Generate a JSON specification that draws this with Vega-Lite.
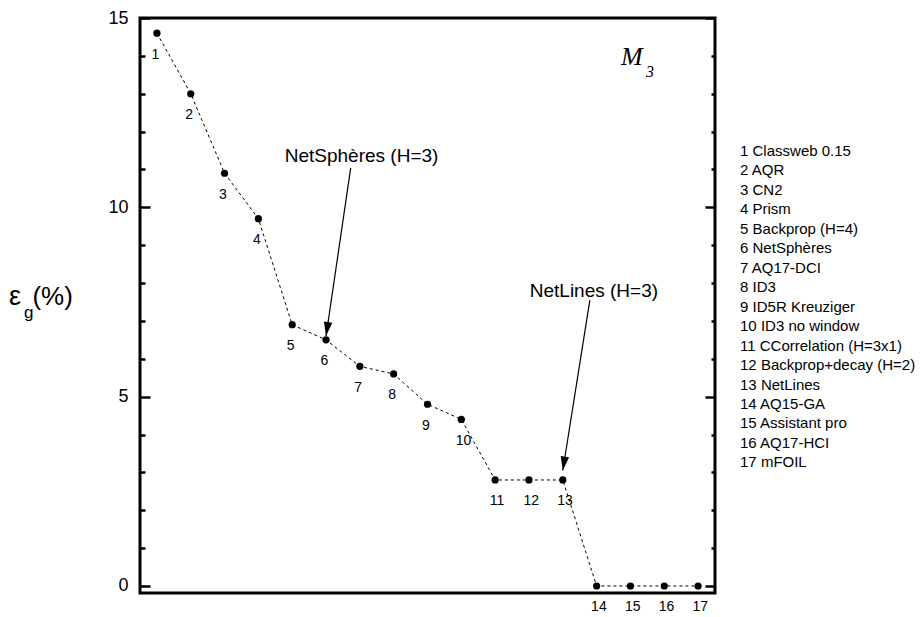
{
  "$schema": "https://vega.github.io/schema/vega-lite/v6.json",
  "autosize": "none",
  "width": 575,
  "height": 575,
  "padding": {"left": 140, "top": 18, "right": 208, "bottom": 24},
  "background": "white",
  "config": {
    "view": {"stroke": "black", "strokeWidth": 3},
    "font": "Liberation Sans",
    "text": {"font": "Liberation Sans", "color": "black"}
  },
  "datasets": {
    "methods": [
      {"id": 1, "label": "1 Classweb 0.15", "err": 14.6},
      {"id": 2, "label": "2 AQR", "err": 13.0},
      {"id": 3, "label": "3 CN2", "err": 10.9},
      {"id": 4, "label": "4 Prism", "err": 9.7},
      {"id": 5, "label": "5 Backprop (H=4)", "err": 6.9},
      {"id": 6, "label": "6 NetSphères", "err": 6.5},
      {"id": 7, "label": "7 AQ17-DCI", "err": 5.8},
      {"id": 8, "label": "8 ID3", "err": 5.6},
      {"id": 9, "label": "9 ID5R Kreuziger", "err": 4.8},
      {"id": 10, "label": "10 ID3 no window", "err": 4.4},
      {"id": 11, "label": "11 CCorrelation (H=3x1)", "err": 2.8},
      {"id": 12, "label": "12 Backprop+decay (H=2)", "err": 2.8},
      {"id": 13, "label": "13 NetLines", "err": 2.8},
      {"id": 14, "label": "14 AQ15-GA", "err": 0},
      {"id": 15, "label": "15 Assistant pro", "err": 0},
      {"id": 16, "label": "16 AQ17-HCI", "err": 0},
      {"id": 17, "label": "17 mFOIL", "err": 0}
    ],
    "arrows": [
      {"label": "NetSphères (H=3)", "tx": 7.05, "ty": 11.2, "x1": 6.73, "y1": 11.04, "x2": 6.0, "y2": 6.6},
      {"label": "NetLines (H=3)", "tx": 13.92, "ty": 7.64, "x1": 13.8, "y1": 7.55, "x2": 13.0, "y2": 3.05}
    ]
  },
  "layer": [
    {
      "layer": [
        {
          "data": {"name": "methods"},
          "mark": {"type": "line", "strokeDash": [3, 3], "strokeWidth": 1, "color": "black"},
          "encoding": {
            "x": {"field": "id", "type": "quantitative", "scale": {"domain": [0.5, 17.5], "nice": false, "zero": false}, "axis": null},
            "y": {
              "field": "err", "type": "quantitative",
              "scale": {"domain": [-0.185, 15], "nice": false, "zero": false},
              "axis": {
                "orient": "left",
                "values": [0, 1, 2, 3, 4, 5, 6, 7, 8, 9, 10, 11, 12, 13, 14, 15],
                "title": null, "domain": false, "grid": false,
                "tickColor": "black", "tickWidth": 2.5,
                "tickSize": {"condition": {"test": "datum.value % 5 === 0", "value": -10}, "value": -5},
                "labelExpr": "datum.value % 5 === 0 ? datum.label : ''",
                "labelPadding": 22, "labelFont": "Liberation Sans", "labelFontSize": 18, "labelColor": "black"
              }
            }
          }
        },
        {
          "data": {"name": "methods"},
          "mark": {"type": "circle", "size": 52, "color": "black", "opacity": 1},
          "encoding": {
            "x": {"field": "id", "type": "quantitative", "scale": {"domain": [0.5, 17.5], "nice": false, "zero": false}, "axis": null},
            "y": {
              "field": "err", "type": "quantitative",
              "scale": {"domain": [-0.185, 15], "nice": false, "zero": false},
              "axis": {
                "orient": "right",
                "values": [0, 1, 2, 3, 4, 5, 6, 7, 8, 9, 10, 11, 12, 13, 14, 15],
                "title": null, "domain": false, "grid": false, "labels": false,
                "tickColor": "black", "tickWidth": 2.5,
                "tickSize": {"condition": {"test": "datum.value % 5 === 0", "value": -10}, "value": -4}
              }
            }
          }
        },
        {
          "data": {"name": "methods"},
          "mark": {"type": "text", "align": "left", "baseline": "middle", "dx": -5.5, "dy": 21.5, "fontSize": 14, "clip": false},
          "encoding": {
            "x": {"field": "id", "type": "quantitative", "scale": {"domain": [0.5, 17.5], "nice": false, "zero": false}, "axis": null},
            "y": {"field": "err", "type": "quantitative", "scale": {"domain": [-0.185, 15], "nice": false, "zero": false}, "axis": null},
            "text": {"field": "id", "type": "nominal"}
          }
        },
        {
          "data": {"name": "arrows"},
          "mark": {"type": "rule", "strokeWidth": 1.2, "color": "black"},
          "encoding": {
            "x": {"field": "x1", "type": "quantitative", "scale": {"domain": [0.5, 17.5], "nice": false, "zero": false}, "axis": null},
            "y": {"field": "y1", "type": "quantitative", "scale": {"domain": [-0.185, 15], "nice": false, "zero": false}, "axis": null},
            "x2": {"field": "x2"},
            "y2": {"field": "y2"}
          }
        },
        {
          "data": {"name": "arrows"},
          "mark": {"type": "point", "shape": "M0,0L-0.3,-1L0.3,-1Z", "filled": true, "color": "black", "opacity": 1, "size": 800, "angle": 8.6},
          "encoding": {
            "x": {"field": "x2", "type": "quantitative", "scale": {"domain": [0.5, 17.5], "nice": false, "zero": false}, "axis": null},
            "y": {"field": "y2", "type": "quantitative", "scale": {"domain": [-0.185, 15], "nice": false, "zero": false}, "axis": null}
          }
        },
        {
          "data": {"name": "arrows"},
          "mark": {"type": "text", "align": "center", "baseline": "alphabetic", "fontSize": 19},
          "encoding": {
            "x": {"field": "tx", "type": "quantitative", "scale": {"domain": [0.5, 17.5], "nice": false, "zero": false}, "axis": null},
            "y": {"field": "ty", "type": "quantitative", "scale": {"domain": [-0.185, 15], "nice": false, "zero": false}, "axis": null},
            "text": {"field": "label", "type": "nominal"}
          }
        },
        {
          "data": {"values": [{}]},
          "mark": {"type": "text", "align": "left", "baseline": "alphabetic", "fontSize": 27, "clip": false, "text": "ε"},
          "encoding": {
            "x": {"datum": -3.37, "type": "quantitative", "scale": {"domain": [0.5, 17.5], "nice": false, "zero": false}, "axis": null},
            "y": {"datum": 7.42, "type": "quantitative", "scale": {"domain": [-0.185, 15], "nice": false, "zero": false}, "axis": null}
          }
        },
        {
          "data": {"values": [{}]},
          "mark": {"type": "text", "align": "left", "baseline": "alphabetic", "fontSize": 17, "clip": false, "text": "g"},
          "encoding": {
            "x": {"datum": -2.93, "type": "quantitative", "scale": {"domain": [0.5, 17.5], "nice": false, "zero": false}, "axis": null},
            "y": {"datum": 7.077, "type": "quantitative", "scale": {"domain": [-0.185, 15], "nice": false, "zero": false}, "axis": null}
          }
        },
        {
          "data": {"values": [{}]},
          "mark": {"type": "text", "align": "left", "baseline": "alphabetic", "fontSize": 26, "clip": false, "text": "(%)"},
          "encoding": {
            "x": {"datum": -2.68, "type": "quantitative", "scale": {"domain": [0.5, 17.5], "nice": false, "zero": false}, "axis": null},
            "y": {"datum": 7.42, "type": "quantitative", "scale": {"domain": [-0.185, 15], "nice": false, "zero": false}, "axis": null}
          }
        },
        {
          "data": {"values": [{}]},
          "mark": {"type": "text", "align": "left", "baseline": "alphabetic", "font": "Liberation Serif", "fontStyle": "italic", "fontSize": 26, "text": "M"},
          "encoding": {
            "x": {"datum": 14.72, "type": "quantitative", "scale": {"domain": [0.5, 17.5], "nice": false, "zero": false}, "axis": null},
            "y": {"datum": 13.76, "type": "quantitative", "scale": {"domain": [-0.185, 15], "nice": false, "zero": false}, "axis": null}
          }
        },
        {
          "data": {"values": [{}]},
          "mark": {"type": "text", "align": "left", "baseline": "alphabetic", "font": "Liberation Serif", "fontStyle": "italic", "fontSize": 16, "text": "3"},
          "encoding": {
            "x": {"datum": 15.46, "type": "quantitative", "scale": {"domain": [0.5, 17.5], "nice": false, "zero": false}, "axis": null},
            "y": {"datum": 13.43, "type": "quantitative", "scale": {"domain": [-0.185, 15], "nice": false, "zero": false}, "axis": null}
          }
        }
      ],
      "resolve": {"axis": {"y": "independent"}}
    },
    {
      "data": {"name": "methods"},
      "mark": {"type": "text", "align": "left", "baseline": "alphabetic", "fontSize": 15, "clip": false},
      "encoding": {
        "x": {"datum": 18.24, "type": "quantitative", "scale": {"domain": [0.5, 17.5], "nice": false, "zero": false}, "axis": null},
        "y": {"field": "id", "type": "quantitative", "scale": {"domain": [-6.091, 23.456], "reverse": true, "nice": false, "zero": false}, "axis": null},
        "text": {"field": "label", "type": "nominal"}
      }
    }
  ],
  "resolve": {"scale": {"y": "independent"}}
}
